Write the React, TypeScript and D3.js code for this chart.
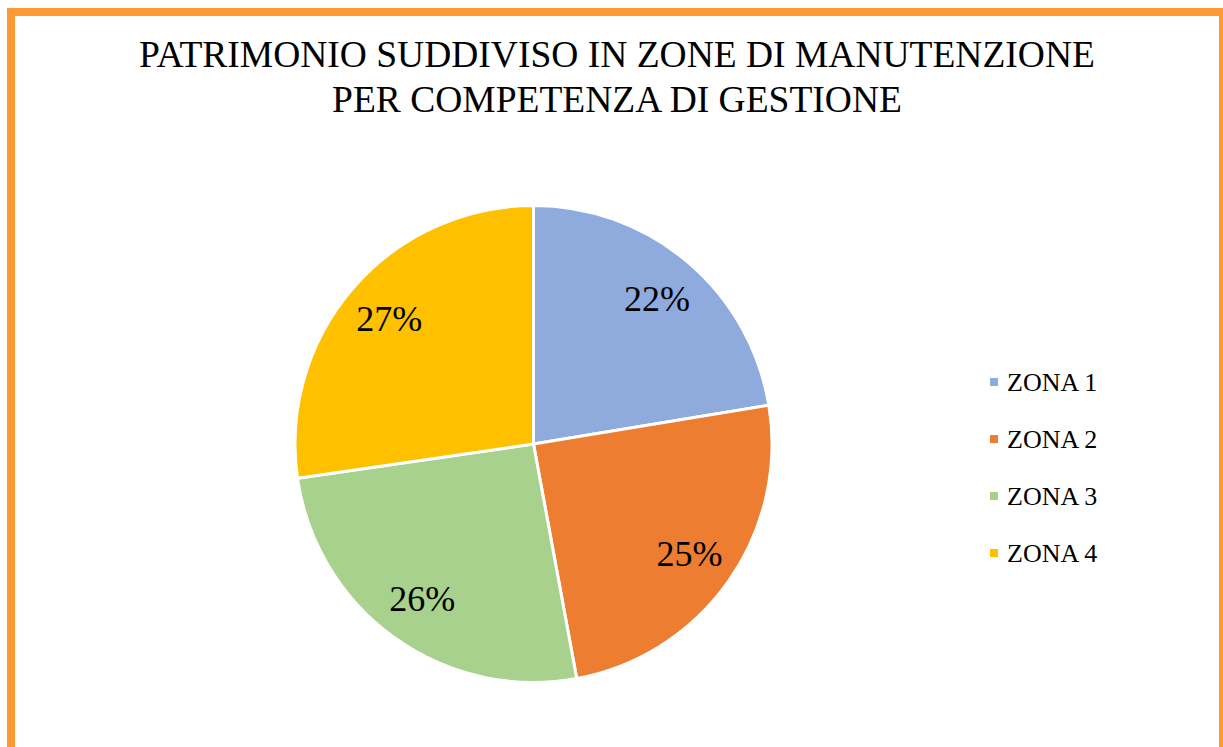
import React from 'react';
import * as d3 from 'd3';

const zones = ['ZONA 1', 'ZONA 2', 'ZONA 3', 'ZONA 4'];
const shares = [22.4, 24.7, 25.6, 27.3];
const colors = ['#8FAADC', '#ED7D31', '#A9D18E', '#FFC000'];
const titleLines = ['PATRIMONIO SUDDIVISO IN ZONE DI MANUTENZIONE', 'PER COMPETENZA DI GESTIONE'];

const FONT = "'Liberation Serif', 'Times New Roman', serif";

const App = () => {
  const width = 1223;
  const height = 747;
  const cx = 533.5;
  const cy = 444;
  const radius = 238.5;

  const data = zones.map((z, i) => ({ zone: z, value: shares[i], color: colors[i] }));
  const pie = d3.pie<any>().sort(null).value(d => d.value);
  const arcs = pie(data);
  const arc = d3.arc<any>().innerRadius(0).outerRadius(radius);
  // centroid sits halfway, so this puts labels at 0.80 r
  const labelArc = d3.arc<any>().innerRadius(radius * 1.6).outerRadius(0);

  const legendY = d3.scalePoint<string>().domain(zones).range([382, 553]);

  return (
    <svg width={width} height={height} style={{ position: 'absolute', left: 0, top: 0 }}>
      <rect x={0} y={0} width={width} height={height} fill="#fff" />
      <rect x={11} y={12} width={1212} height={760} fill="#fff" stroke="#FF9933" strokeWidth={8} />
      {titleLines.map((t, i) => (
        <text key={t} x={617} y={67 + i * 45} textAnchor="middle" fontSize={37.5} fontFamily={FONT} fill="#000">
          {t}
        </text>
      ))}
      <g transform={`translate(${cx},${cy})`}>
        {arcs.map(a => (
          <path key={a.data.zone} d={arc(a) || ''} fill={a.data.color} stroke="#fff" strokeWidth={3} />
        ))}
        {arcs.map(a => {
          const [x, y] = labelArc.centroid(a);
          return (
            <text key={a.data.zone} x={x} y={y} textAnchor="middle" dominantBaseline="central" fontSize={36} fontFamily={FONT} fill="#000">
              {Math.round(a.data.value)}%
            </text>
          );
        })}
      </g>
      {data.map(d => (
        <g key={d.zone} transform={`translate(990,${legendY(d.zone)})`}>
          <rect x={0} y={-4} width={8} height={8} fill={d.color} />
          <text x={17} y={0} dominantBaseline="central" fontSize={26} fontFamily={FONT} fill="#000">
            {d.zone}
          </text>
        </g>
      ))}
    </svg>
  );
};

export default App;
